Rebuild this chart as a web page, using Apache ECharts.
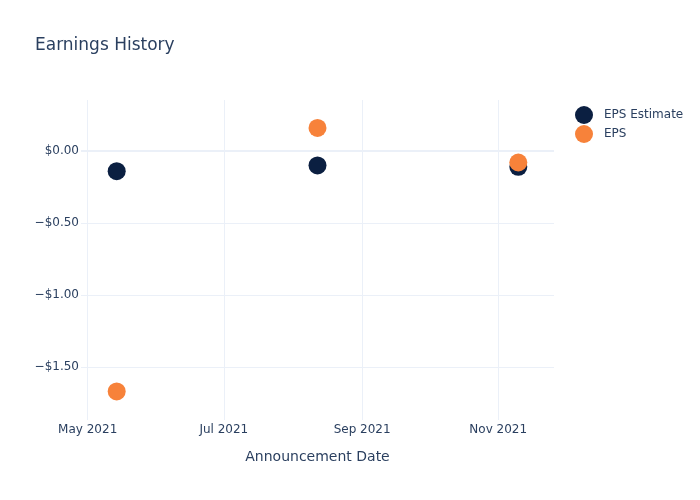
<!DOCTYPE html>
<html>
<head>
<meta charset="utf-8">
<script src="https://cdn.jsdelivr.net/npm/echarts@6/dist/echarts.min.js"></script>
<style>html,body{margin:0;padding:0;background:#fff}#c{width:700px;height:500px}</style>
</head>
<body>
<div id="c"></div>
<script>
var dates = ['2021-05-14', '2021-08-12', '2021-11-10'];
var epsEstimate = [-0.14, -0.10, -0.11];
var eps = [-1.67, 0.16, -0.08];
var xTicks = ['2021-05-01', '2021-07-01', '2021-09-01', '2021-11-01'];
var xTickLabels = ['May 2021', 'Jul 2021', 'Sep 2021', 'Nov 2021'];
var yTicks = [-1.5, -1.0, -0.5, 0];

var FONT = 'DejaVu Sans';
var TXT = '#2a3f5f';
var GRID = '#EBF0F8';

function ts(s){ return new Date(s + 'T00:00:00Z').getTime(); }
var xTickTs = xTicks.map(ts);

function fmtY(v){
  var a = Math.abs(v).toFixed(2);
  return (v < -1e-9 ? '\u2212$' : '$') + a;
}
function fmtX(v){
  for (var i = 0; i < xTickTs.length; i++) if (Math.abs(xTickTs[i] - v) < 1000) return xTickLabels[i];
  return '';
}

var chart = echarts.init(document.getElementById('c'), null, {renderer:'canvas'});
chart.setOption({
  animation: false,
  backgroundColor: '#fff',
  textStyle: {fontFamily: FONT},
  title: {text: 'Earnings History', left: 30, top: 32,
    textStyle: {fontFamily: FONT, fontSize: 17, fontWeight: 'normal', color: TXT}},
  legend: {orient: 'vertical', left: 570, top: 101, itemWidth: 30, itemHeight: 18, itemGap: 1,
    icon: 'circle', textStyle: {fontFamily: FONT, fontSize: 12, color: TXT},
    data: ['EPS Estimate', 'EPS']},
  grid: {left: 81, right: 146, top: 100, bottom: 80, containLabel: false},
  xAxis: {
    type: 'value',
    min: ts('2021-04-28'), max: ts('2021-11-26'),
    name: 'Announcement Date', nameLocation: 'middle', nameGap: 30,
    nameTextStyle: {fontFamily: FONT, fontSize: 14, color: TXT},
    axisLine: {show: false}, axisTick: {show: false},
    axisLabel: {customValues: xTickTs, fontFamily: FONT, fontSize: 12, color: TXT, margin: 4,
      formatter: fmtX},
    splitLine: {show: false}
  },
  yAxis: {
    type: 'value', min: -1.868, max: 0.354,
    axisLine: {show: false}, axisTick: {show: false},
    axisLabel: {customValues: yTicks, fontFamily: FONT, fontSize: 12, color: TXT, margin: 2,
      formatter: fmtY},
    splitLine: {show: false}
  },
  series: [
    {name: 'EPS Estimate', type: 'scatter', symbolSize: 18, itemStyle: {color: '#0b1f41', opacity: 1},
      data: dates.map(function(d,i){ return [ts(d), epsEstimate[i]]; }),
      markLine: {silent: true, symbol: 'none', label: {show: false}, animation: false,
        data: xTickTs.map(function(t){ return {xAxis: t, lineStyle: {color: GRID, width: 1, type: 'solid'}}; })
          .concat(yTicks.map(function(v){ return {yAxis: v, lineStyle: {color: GRID, width: v === 0 ? 2 : 1, type: 'solid'}}; }))},
      z: 2},
    {name: 'EPS', type: 'scatter', symbolSize: 18, itemStyle: {color: '#f7823a', opacity: 1},
      data: dates.map(function(d,i){ return [ts(d), eps[i]]; }), z: 3}
  ]
});
</script>
</body>
</html>
